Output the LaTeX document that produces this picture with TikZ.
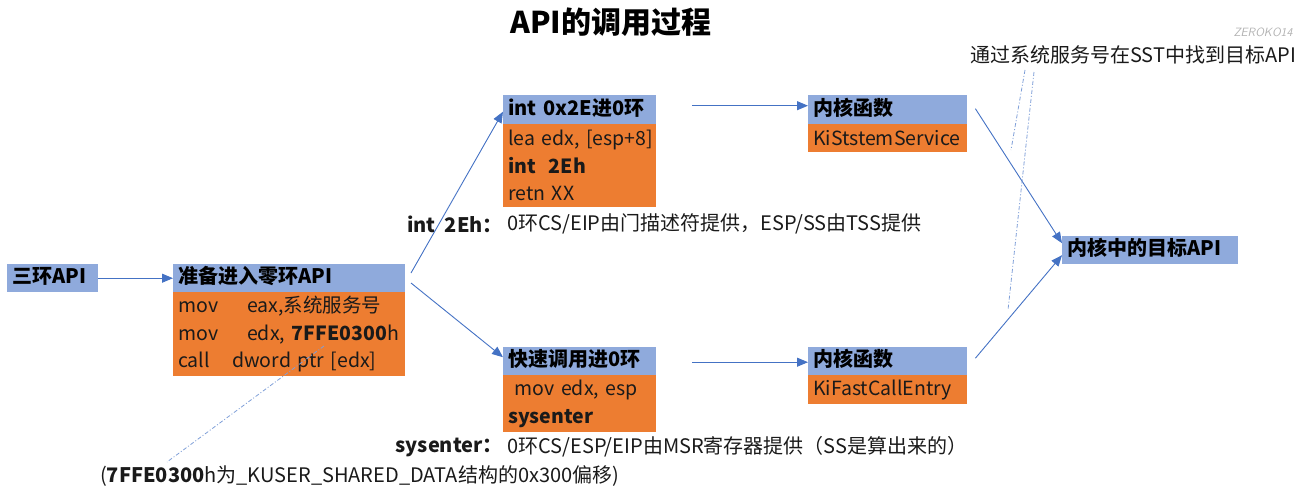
\documentclass[tikz,border=0pt]{standalone}
\usepackage{fontspec}
\setmainfont{Noto Sans CJK SC}
\usetikzlibrary{arrows.meta,calc}
\definecolor{hdrblue}{HTML}{8FAADC}
\definecolor{bodyor}{HTML}{ED7D31}
\definecolor{arrblue}{HTML}{4472C4}
\definecolor{dashblue}{HTML}{7F9FD8}
\definecolor{txt}{HTML}{1A1A1A}
\tikzset{
  hdr/.style={anchor=north west, fill=hdrblue, inner xsep=5pt, inner ysep=0pt, align=left,
    font=\fontsize{20}{24}\selectfont\bfseries, text=black, text height=15pt, text depth=4pt},
  bodybox/.style={anchor=north west, fill=bodyor, inner xsep=5pt, inner ysep=0pt, align=left,
    font=\fontsize{19.5}{27.5}\selectfont, text=txt},
  conn/.style={draw=arrblue, line width=0.9pt, -{Triangle[length=11pt,width=9pt]}},
  note/.style={draw=dashblue, line width=0.8pt, dash pattern=on 4pt off 2pt on 1pt off 2pt},
  lbl/.style={anchor=west, inner sep=0pt, font=\fontsize{20}{24}\selectfont, text=txt},
  blbl/.style={anchor=east, inner sep=0pt, font=\fontsize{20}{24}\selectfont\bfseries, text=txt},
}
\begin{document}
\begin{tikzpicture}[x=1pt,y=-1pt]
\useasboundingbox (0,0) rectangle (1310,490);
% title
\node[font=\fontsize{30}{34}\selectfont\bfseries] (title) at (611,22) {API的调用过程};
\node[font=\fontsize{12}{14}\sffamily\itshape, text=gray!60] (wm) at (1263,32) {ZEROKO14};
% boxes
\node[hdr, text width=81pt, minimum height=28pt] (r3) at (7,264) {三环API};
\node[hdr, text width=222pt, minimum height=28pt] (prh) at (173,264) {准备进入零环API};
\node[bodybox, text width=222pt, minimum height=84pt] (prb) at (173,292)
  {\mbox{\makebox[69pt][l]{mov}eax,系统服务号}\\\mbox{\makebox[69pt][l]{mov}edx, \textbf{7FFE0300}h}\\\mbox{\makebox[54pt][l]{call}dword ptr [edx]}};
\node[hdr, text width=143pt, minimum height=29pt] (inth) at (503,95) {\mbox{int 0x2E进0环}};
\node[bodybox, text width=143pt, minimum height=83pt] (intb) at (503,124)
  {\mbox{lea edx, [esp+8]}\\\mbox{\textbf{int\ \ 2Eh}}\\\mbox{retn XX}};
\node[hdr, text width=149pt, minimum height=29pt] (k1h) at (808,95) {内核函数};
\node[bodybox, text width=149pt, minimum height=28pt] (k1b) at (808,124) {\mbox{KiStstemService}};
\node[hdr, text width=143pt, minimum height=28pt] (fah) at (503,347) {\mbox{快速调用进0环}};
\node[bodybox, text width=143pt, minimum height=57pt] (fab) at (503,375)
  {\mbox{\ mov edx, esp}\\\mbox{\textbf{sysenter}}};
\node[hdr, text width=149pt, minimum height=28pt] (k2h) at (808,347) {内核函数};
\node[bodybox, text width=149pt, minimum height=29pt] (k2b) at (808,375) {\mbox{KiFastCallEntry}};
\node[hdr, text width=166pt, minimum height=28pt] (tgt) at (1062,236) {\mbox{内核中的目标API}};
% labels
\node[blbl] (l1a) at (503,224) {int\ \ 2Eh：};
\node[lbl] (l1b) at (507,224) {0环CS/EIP由门描述符提供，ESP/SS由TSS提供};
\node[blbl] (l2a) at (503,447) {sysenter：};
\node[lbl] (l2b) at (507,447) {0环CS/ESP/EIP由MSR寄存器提供（SS是算出来的）};
\node[lbl] (l3) at (100,476) {(\textbf{7FFE0300}h为\_KUSER\_SHARED\_DATA结构的0x300偏移)};
\node[lbl] (l4) at (970,55) {通过系统服务号在SST中找到目标API};
% connectors
\draw[conn] (r3.east) -- (prh.west);
\coordinate (s1) at (411,273);
\coordinate (s2) at (411,283);
\draw[conn] (s1) -- ([yshift=-2pt]inth.west);
\draw[conn] (s2) -- ([yshift=4pt]fah.west);
\draw[conn] ($(inth.east)+(36,-4)$) -- ([yshift=4pt]k1h.west);
\draw[conn] ($(fah.east)+(36,1)$) -- ([yshift=-1pt]k2h.west);
\draw[conn] ($(k1h.east)+(8,-1)$) -- ([yshift=7pt]tgt.west);
\draw[conn] ($(k2h.east)+(8,-3)$) -- ([yshift=-5pt]tgt.west);
% dash-dot callouts
\coordinate (n1a) at (324,346);
\coordinate (n1b) at (167,462);
\draw[note] (n1a) -- (n1b);
\coordinate (n2a) at (1025,70);
\coordinate (n2b) at (1011,150);
\coordinate (n3a) at (1034,72);
\coordinate (n3b) at (1008,310);
\draw[note] (n2a) -- (n2b);
\draw[note] (n3a) -- (n3b);
\end{tikzpicture}
\end{document}
